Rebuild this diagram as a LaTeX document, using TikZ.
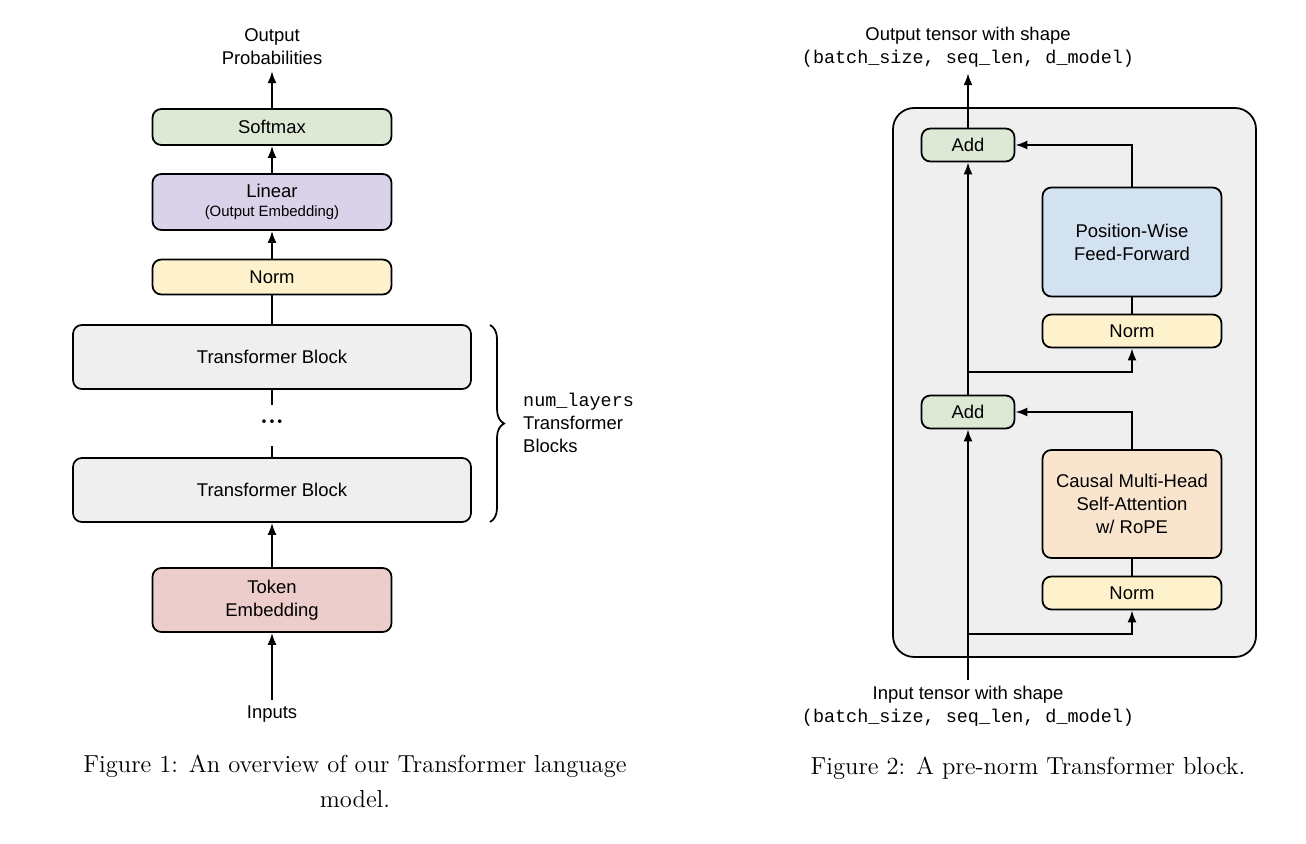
\documentclass[tikz,border=0pt]{standalone}
\usepackage{fontspec}
\setmainfont{Latin Modern Roman}
\newfontfamily\diagfont{Liberation Sans}
\setmonofont{Liberation Mono}
\usetikzlibrary{arrows.meta, positioning, decorations.pathreplacing}
\definecolor{softgreen}{HTML}{DDE9D5}
\definecolor{softpurple}{HTML}{D9D2E8}
\definecolor{softyellow}{HTML}{FDF2CC}
\definecolor{softgray}{HTML}{EFEFEF}
\definecolor{softred}{HTML}{EDCCCC}
\definecolor{softblue}{HTML}{D3E2F1}
\definecolor{softorange}{HTML}{F9E4CE}
\tikzset{
  blk/.style={draw, line width=1pt, rounded corners=5pt, align=center,
    font=\diagfont\fontsize{10.5}{13}\selectfont, inner sep=0pt},
  wide/.style={blk, minimum width=4.78cm, minimum height=0.72cm},
  huge/.style={blk, minimum width=7.96cm, minimum height=1.28cm, fill=softgray},
  side/.style={blk, minimum width=3.58cm},
  addbox/.style={blk, minimum width=1.86cm, minimum height=0.66cm, fill=softgreen},
  lbl/.style={align=center, font=\diagfont\fontsize{10.5}{13}\selectfont},
  figcap/.style={font=\fontsize{14}{20}\selectfont, align=center},
  flow/.style={line width=1.1pt, -{Latex[length=2.4mm,width=1.8mm]}},
  wire/.style={line width=1.1pt}
}
\begin{document}
\begin{tikzpicture}[x=0.02cm, y=-0.02cm]
  \useasboundingbox (0,0) rectangle (1306,844);

  % left: the language model
  \node[lbl] (outp) at (272,47) {Output\\Probabilities};
  \node[wide, fill=softgreen] (soft) at (272,127) {Softmax};
  \node[wide, fill=softpurple, minimum height=1.12cm] (lin) at (272,202)
    {Linear\\[-2pt]{\fontsize{8.5}{10}\selectfont (Output Embedding)}};
  \node[wide, fill=softyellow, minimum height=0.7cm] (norm) at (272,277) {Norm};
  \node[huge] (tbtop) at (272,357) {Transformer Block};
  \node[font=\bfseries\Large, inner sep=1pt] (dots) at (272,422) {...};
  \node[huge] (tbbot) at (272,490) {Transformer Block};
  \node[wide, fill=softred, minimum height=1.28cm] (tok) at (272,600) {Token\\Embedding};
  \node[lbl] (inp) at (272,714) {Inputs};

  \draw[flow] (inp) -- (tok);
  \draw[flow] (tok) -- (tbbot);
  \draw[wire] (tbbot) -- (272,446);
  \draw[wire] (272,405) -- (tbtop);
  \draw[wire] (tbtop) -- (norm);
  \draw[flow] (norm) -- (lin);
  \draw[flow] (lin) -- (soft);
  \draw[flow] (soft) -- (outp);

  \draw[line width=1pt, decorate, decoration={brace, amplitude=8pt}]
    (490,325) -- (490,522);
  \node[lbl, align=left, anchor=west] (nlay) at (517,423)
    {{\ttfamily num\_layers}\\Transformer\\Blocks};

  \node[figcap] (cap1) at (355,781) {Figure 1: An overview of our Transformer language\\model.};

  % right: one pre-norm block
  \draw[line width=1pt, rounded corners=12pt, fill=softgray] (893,108) rectangle (1256,657);
  \node[lbl] (otens) at (968,47)
    {Output tensor with shape\\{\ttfamily (batch\_size, seq\_len, d\_model)}};
  \node[addbox] (addtop) at (968,145) {Add};
  \node[side, fill=softblue, minimum height=2.18cm] (ffn) at (1132,242) {Position-Wise\\Feed-Forward};
  \node[side, fill=softyellow, minimum height=0.66cm] (normb) at (1132,331) {Norm};
  \node[addbox] (addbot) at (968,412) {Add};
  \node[side, fill=softorange, minimum height=2.16cm] (attn) at (1132,504)
    {Causal Multi-Head\\Self-Attention\\w/ RoPE};
  \node[side, fill=softyellow, minimum height=0.66cm] (norma) at (1132,593) {Norm};
  \node[lbl] (itens) at (968,706)
    {Input tensor with shape\\{\ttfamily (batch\_size, seq\_len, d\_model)}};

  \coordinate (splita) at (968,634);
  \coordinate (splitb) at (968,372);
  \draw[flow] (itens) -- (addbot);
  \draw[flow] (splita) -| (norma);
  \draw[wire] (norma) -- (attn);
  \draw[flow] (attn) |- (addbot);
  \draw[flow] (addbot) -- (addtop);
  \draw[flow] (splitb) -| (normb);
  \draw[wire] (normb) -- (ffn);
  \draw[flow] (ffn) |- (addtop);
  \draw[flow] (addtop) -- (otens);

  \node[figcap] (cap2) at (1028,768) {Figure 2: A pre-norm Transformer block.};
\end{tikzpicture}
\end{document}
